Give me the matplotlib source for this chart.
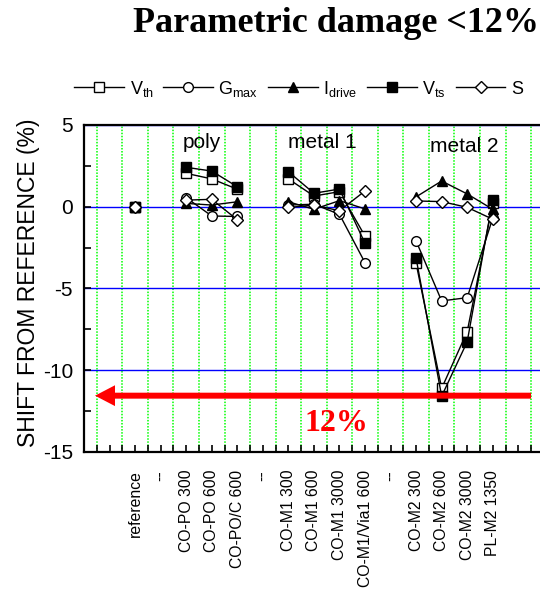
import numpy as np
import matplotlib
matplotlib.use('Agg')
import matplotlib.pyplot as plt
from matplotlib.lines import Line2D

plt.rcParams['font.family'] = ['Liberation Sans', 'DejaVu Sans']

# categories along x (positions 2..16), '--' are separators
categories = ['reference', '--', 'CO-PO 300', 'CO-PO 600', 'CO-PO/C 600', '--',
              'CO-M1 300', 'CO-M1 600', 'CO-M1 3000', 'CO-M1/Via1 600', '--',
              'CO-M2 300', 'CO-M2 600', 'CO-M2 3000', 'PL-M2 1350']
nan = np.nan
vth = [0, nan, 2.04, 1.70, 1.07, nan, 1.70, 0.65, 0.92, -1.80, nan, -3.47, -11.12, -7.65, 0.20]
gmax = [0, nan, 0.55, -0.57, -0.60, nan, 0.10, 0.15, -0.47, -3.43, nan, -2.10, -5.77, -5.57, -0.70]
idrive = [0, nan, 0.20, 0.10, 0.30, nan, 0.30, -0.16, 0.37, -0.14, nan, 0.60, 1.57, 0.78, -0.16]
vts = [0, nan, 2.41, 2.18, 1.22, nan, 2.14, 0.82, 1.08, -2.24, nan, -3.16, -11.60, -8.27, 0.41]
s = [0, nan, 0.40, 0.45, -0.80, nan, -0.05, 0.10, -0.25, 0.96, nan, 0.35, 0.31, -0.04, -0.77]

x = np.arange(len(categories)) + 2

fig = plt.figure(figsize=(5.4, 5.91), dpi=100)
ax = fig.add_axes([0.1556, 0.2357, 0.8444, 0.5528])

series = [
    (vth, 's', 'white', r'$\mathregular{V_{th}}$'),
    (gmax, 'o', 'white', r'$\mathregular{G_{max}}$'),
    (idrive, '^', 'black', r'$\mathregular{I_{drive}}$'),
    (vts, 's', 'black', r'$\mathregular{V_{ts}}$'),
    (s, 'D', 'white', 'S'),
]
handles = []
for vals, mk, fc, lab in series:
    ms = 6 if mk == 'D' else 7
    ax.plot(x, vals, color='black', lw=1, marker=mk, ms=ms, mfc=fc, mec='black',
            mew=1, zorder=5)
    handles.append(Line2D([], [], color='black', lw=1, marker=mk, ms=ms, mfc=fc,
                          mec='black', mew=1, label=lab))

ax.set_xlim(0, 17.85)
ax.set_ylim(-15, 5)
ax.set_xticks(np.arange(1, 18))
ax.set_xticklabels([''] + categories + [''], rotation=90, fontsize=11.3)
ax.set_xticks(np.arange(0.5, 18, 1), minor=True)
ax.set_yticks([5, 0, -5, -10, -15])
ax.set_yticklabels(['5', '0', '-5', '-10', '-15'], fontsize=15)
ax.set_yticks(np.arange(-12.5, 5, 5), minor=True)
ax.tick_params(which='both', direction='in', length=5, width=1.2, top=False, right=False)
ax.tick_params(axis='x', which='major', pad=13)
ax.tick_params(axis='y', which='major', pad=8)

ax.grid(which='minor', axis='x', color='#00ff00', ls=(0, (1, 1)), lw=1.1)
ax.grid(which='major', axis='y', color='#0000ff', ls='-', lw=1)
ax.set_axisbelow(True)

for sp in ['top', 'left', 'bottom']:
    ax.spines[sp].set_linewidth(1.6)
ax.spines['right'].set_visible(False)

ax.set_ylabel('SHIFT FROM REFERENCE (%)', fontsize=16.5)
ax.yaxis.set_label_coords(-0.1228, 0.518)
ax.yaxis.label.set_va('center')

ax.text(4.62, 3.95, 'poly', fontsize=15, ha='center', va='center')
ax.text(9.31, 3.9, 'metal 1', fontsize=15, ha='center', va='center')
ax.text(14.87, 3.7, 'metal 2', fontsize=15, ha='center', va='center')

ax.annotate('', xy=(0.43, -11.57), xytext=(17.5, -11.57),
            arrowprops=dict(arrowstyle='simple,head_length=1.44,head_width=1.5,tail_width=0.43',
                            mutation_scale=10, fc='#ff0000', ec='#ff0000', lw=0,
                            shrinkA=0, shrinkB=0), zorder=6)
ax.text(9.88, -13.25, '12%', fontsize=23, color='#ff0000', fontweight='bold',
        family='Liberation Serif', ha='center', va='center')

fig.text(0.622, 0.961, 'Parametric damage <12%', fontsize=26, fontweight='bold',
         family='Liberation Serif', ha='center', va='center')

fig.legend(handles=handles, loc='center', bbox_to_anchor=(0.553, 0.85), ncol=5,
           frameon=False, fontsize=13, handlelength=2.75, handletextpad=0.3,
           columnspacing=0.55, numpoints=1)

fig.savefig('out.png', dpi=100)
